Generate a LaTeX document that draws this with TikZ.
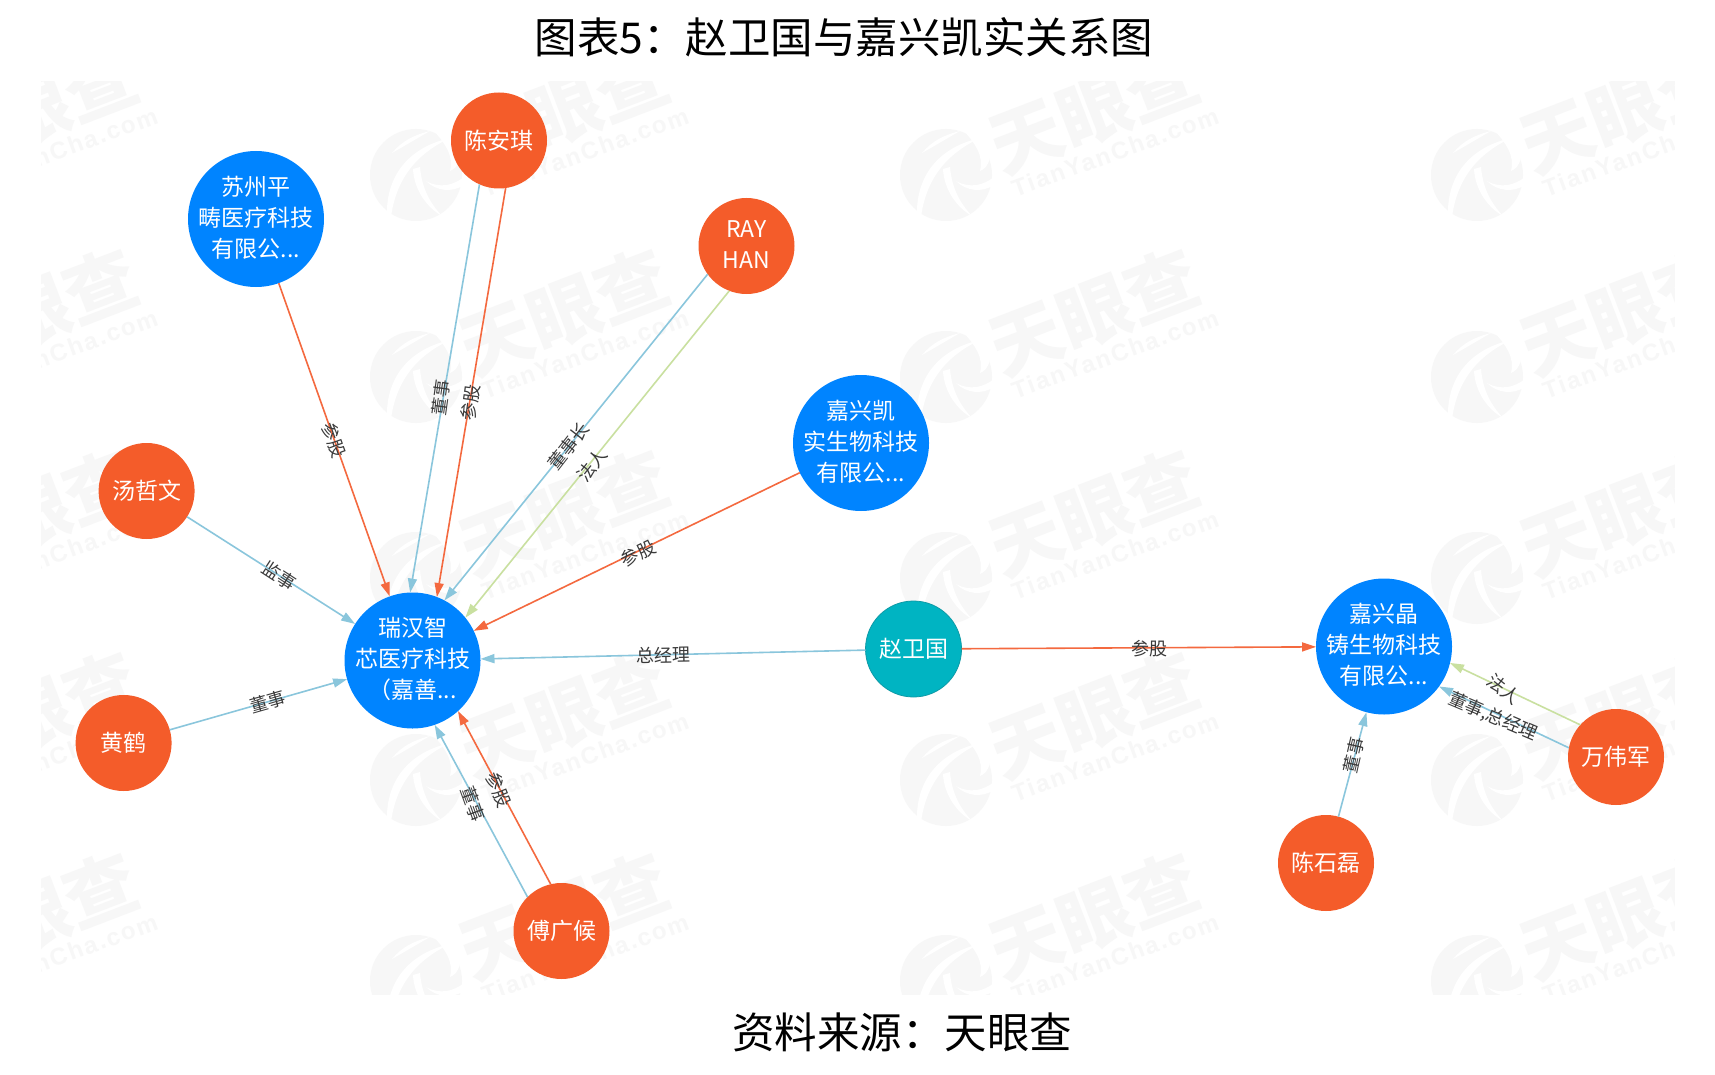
\documentclass[tikz,border=0pt]{standalone}
\usepackage{fontspec}
\setmainfont{Noto Sans CJK SC}
\newfontfamily\wmlatin[LetterSpace=8]{Liberation Sans}
\usetikzlibrary{arrows.meta}
\definecolor{orgnode}{HTML}{F45C2A}
\definecolor{blunode}{HTML}{0084FF}
\definecolor{teanode}{HTML}{00B4C2}
\definecolor{teaedge}{HTML}{0E9AA6}
\definecolor{edgeblue}{HTML}{8AC6DC}
\definecolor{edgeorg}{HTML}{F4693F}
\definecolor{edgegrn}{HTML}{C9E0A0}
\definecolor{wmark}{HTML}{F7F7F7}
\definecolor{lbl}{HTML}{3A3A3A}
\newcommand{\stack}[1]{\raisebox{-7.5pt}[0pt][0pt]{\makebox[0pt][c]{\begin{tabular}{@{}c@{}}#1\end{tabular}}}}
\newcommand{\tile}[2]{%
  \begin{scope}[shift={(#1,#2)}]
    \fill[wmark] (0,0) circle[radius=46pt];
    \fill[white] (14,-48) .. controls (30,-46) and (54,-30) .. (44,-18) .. controls (42,-8) and (38,-6) .. (34,-4) .. controls (38,-18) and (30,-32) .. (14,-48) -- cycle;
    \fill[white] (-24,-22) .. controls (-14,-34) and (-2,-40) .. (14,-44) .. controls (0,-36) and (-10,-30) .. (-24,-22) -- cycle;
    \fill[white] (-29,40) .. controls (-30,8) and (-14,-26) .. (34,-37) .. controls (-2,-20) and (-20,6) .. (-25,42) -- cycle;
    \fill[white] (-3,-6) .. controls (-2,14) and (10,32) .. (26,41) .. controls (14,28) and (6,14) .. (4,-8) -- cycle;
    \fill[white] (10,6) .. controls (24,14) and (38,10) .. (48,2) -- (48,10) .. controls (36,18) and (20,16) .. (10,6) -- cycle;
    \node[wmtext,font=\fontsize{72}{74}\selectfont\bfseries,rotate=21] at (148,-65) {天眼查};
    \node[wmtext,font=\wmlatin\fontsize{24}{27}\selectfont\bfseries,rotate=20] at (169,-23) {TianYanCha.com};
  \end{scope}}
\tikzset{
  x=1pt,y=-1pt,
  wmtext/.style={text=wmark,inner sep=0},
  base/.style={circle,inner sep=0,outer sep=0,text=white,font=\fontsize{23}{31}\selectfont},
  big/.style={base,minimum size=136pt,fill=blunode},
  person/.style={base,minimum size=96pt,fill=orgnode},
  lead/.style={base,minimum size=96pt,fill=teanode,draw=teaedge,line width=.8pt},
  link/.style={line width=1.6pt,-{Triangle[length=14pt,width=9pt]}},
  lb/.style={link,edgeblue},
  lo/.style={link,edgeorg},
  lg/.style={link,edgegrn},
  tag/.style={text=lbl,font=\fontsize{18}{20}\selectfont,inner sep=0},
  head/.style={text=black,font=\fontsize{42.5}{46}\selectfont,inner sep=0}
}
\begin{document}
\begin{tikzpicture}
\useasboundingbox (0,0) rectangle (1715,1075);
\fill[white] (0,0) rectangle (1715,1075);
\begin{scope}
  \clip (41.5,82) rectangle (1674,994);
  \foreach \cx in {-115,416,946,1477}
    \foreach \cy in {175,377,578,780,981}
      {\tile{\cx}{\cy}}
\end{scope}
\node[head] (title) at (844,37) {图表5：赵卫国与嘉兴凯实关系图};
\node[head] (source) at (902,1032) {资料来源：天眼查};

\node[big] (rh) at (412.5,660.5) {\stack{瑞汉智\\芯医疗科技\\（嘉善...}};
\node[big] (sz) at (256,219) {\stack{苏州平\\畴医疗科技\\有限公...}};
\node[person] (ca) at (499,140.5) {陈安琪};
\node[person] (ray) at (746.5,246) {\stack{RAY\\HAN}};
\node[big] (jk) at (861,443) {\stack{嘉兴凯\\实生物科技\\有限公...}};
\node[person] (tz) at (146.6,491) {汤哲文};
\node[person] (hh) at (123.6,743) {黄鹤};
\node[person] (fg) at (561.5,931) {傅广候};
\node[lead] (zw) at (913.5,649) {赵卫国};
\node[big] (jj) at (1384,646.5) {\stack{嘉兴晶\\铸生物科技\\有限公...}};
\node[person] (ww) at (1616,757) {万伟军};
\node[person] (cs) at (1326,863) {陈石磊};

\draw[lo] (sz) -- (rh);
\draw[lb] (ca.246) -- (rh.92);
\draw[lo] (ca.-82) -- (rh.69);
\draw[lb] (ray.216) -- (rh.62);
\draw[lg] (ray.-111.6) -- (rh.39.5);
\draw[lo] (jk) -- (rh);
\draw[lb] (tz) -- (rh);
\draw[lb] (hh) -- (rh);
\draw[lb] (zw) -- (rh);
\draw[lo] (zw) -- (jj);
\draw[lb] (fg.135) -- (rh.-71.6);
\draw[lo] (fg.103.4) -- (rh.-48.9);
\draw[lg] (ww.138.6) -- (jj.-14.5);
\draw[lb] (ww.169.5) -- (jj.-36.9);
\draw[lb] (cs) -- (jj);

\node[tag,rotate=-70] (t1) at (334,440) {参股};
\node[tag,rotate=82] (t2) at (441,398) {董事};
\node[tag,rotate=82] (t3) at (470.5,403) {参股};
\node[tag,rotate=52] (t4) at (569,446) {董事长};
\node[tag,rotate=52] (t5) at (592,465) {法人};
\node[tag,rotate=26] (t6) at (638,553) {参股};
\node[tag,rotate=-33] (t7) at (279,576) {监事};
\node[tag,rotate=16] (t8) at (268,702) {董事};
\node[tag,rotate=1] (t9) at (663,655) {总经理};
\node[tag,rotate=-68] (t10) at (499,790) {参股};
\node[tag,rotate=-70] (t11) at (473,804) {董事};
\node[tag] (t12) at (1149,649) {参股};
\node[tag,rotate=-38] (t13) at (1504,689) {法人};
\node[tag,rotate=-23] (t14) at (1493,717) {董事,总经理};
\node[tag,rotate=77] (t15) at (1354,755) {董事};
\end{tikzpicture}
\end{document}
